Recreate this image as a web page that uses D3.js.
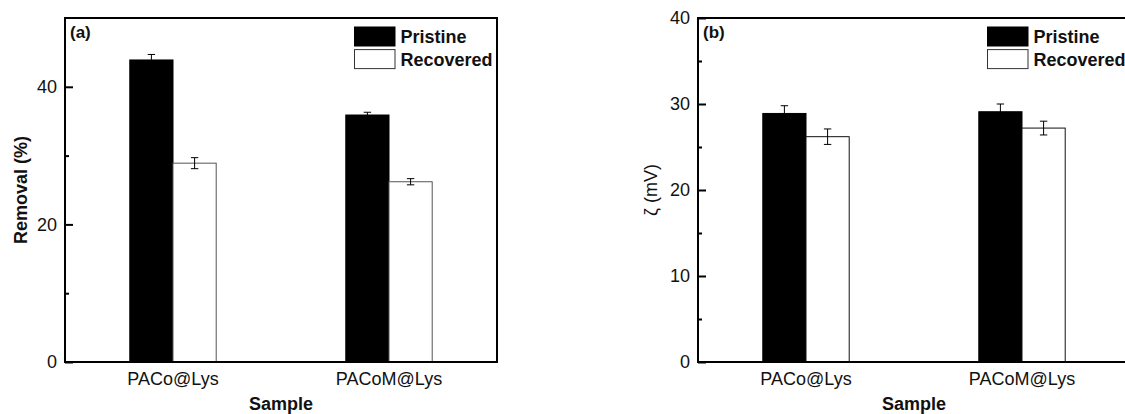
<!DOCTYPE html>
<html>
<head>
<meta charset="utf-8">
<script src="https://cdn.jsdelivr.net/npm/d3@7"></script>
<style>
  html, body { margin: 0; padding: 0; background: #fff; }
  svg { display: block; }
  text { font-family: "Liberation Sans", Arial, sans-serif; fill: #111; }
</style>
</head>
<body>
<svg id="chart" width="1125" height="414"></svg>
<script>
// Samples and series
const samples = ["PACo@Lys", "PACoM@Lys"];
const series = ["Pristine", "Recovered"];

// Panel (a): lysozyme removal, %
const removalPristine = [43.9, 35.9];
const removalPristineErr = [0.8, 0.4];
const removalRecovered = [28.9, 26.2];
const removalRecoveredErr = [0.8, 0.45];
const removalMajorTicks = [0, 20, 40];
const removalMinorTicks = [10, 30];

// Panel (b): zeta potential, mV
const zetaPristine = [28.9, 29.1];
const zetaPristineErr = [0.9, 0.9];
const zetaRecovered = [26.2, 27.2];
const zetaRecoveredErr = [0.9, 0.8];
const zetaMajorTicks = [0, 10, 20, 30, 40];
const zetaMinorTicks = [5, 15, 25, 35];

const svg = d3.select("#chart");
const plotTop = 18, plotHeight = 344, plotWidth = 432;

function drawPanel(opts) {
  const g = svg.append("g").attr("transform", `translate(${opts.left},${plotTop})`);

  const x0 = d3.scaleBand().domain(samples).range([0, plotWidth]);
  const bw = x0.bandwidth();
  const x1 = d3.scaleBand().domain(series).range([bw * 0.3, bw * 0.7]);
  const y = d3.scaleLinear().domain(opts.domain).range([plotHeight, 0]);

  const rows = [];
  samples.forEach((s, i) => {
    rows.push({ sample: s, series: "Pristine", value: opts.pristine[i], err: opts.pristineErr[i] });
    rows.push({ sample: s, series: "Recovered", value: opts.recovered[i], err: opts.recoveredErr[i] });
  });

  // bars
  g.selectAll("rect.bar").data(rows).join("rect")
    .attr("class", "bar")
    .attr("x", d => x0(d.sample) + x1(d.series))
    .attr("width", x1.bandwidth())
    .attr("y", d => y(d.value))
    .attr("height", d => plotHeight - y(d.value))
    .attr("fill", d => d.series === "Pristine" ? "#000" : "#fff")
    .attr("stroke", d => d.series === "Pristine" ? "#000" : opts.outline)
    .attr("stroke-width", 1);

  // error bars
  const capHalf = 3.7;
  const eb = g.selectAll("g.err").data(rows).join("g").attr("class", "err")
    .attr("stroke", "#000").attr("stroke-width", 1);
  const cx = d => x0(d.sample) + x1(d.series) + x1.bandwidth() / 2;
  eb.append("line")
    .attr("x1", cx).attr("x2", cx)
    .attr("y1", d => y(d.value + d.err)).attr("y2", d => y(d.value - d.err));
  eb.append("line")
    .attr("x1", d => cx(d) - capHalf).attr("x2", d => cx(d) + capHalf)
    .attr("y1", d => y(d.value + d.err)).attr("y2", d => y(d.value + d.err));
  eb.append("line")
    .attr("x1", d => cx(d) - capHalf).attr("x2", d => cx(d) + capHalf)
    .attr("y1", d => y(d.value - d.err)).attr("y2", d => y(d.value - d.err));

  // y axis with inward ticks
  const yAxis = g.append("g")
    .call(d3.axisLeft(y).tickValues(opts.major).tickSize(-8).tickPadding(8).tickFormat(d3.format("d")));
  yAxis.select(".domain").remove();
  yAxis.selectAll(".tick line").attr("stroke", "#000").attr("stroke-width", 2);
  yAxis.selectAll(".tick text").style("font-size", "18px").attr("fill", "#111");

  const yMinor = g.append("g")
    .call(d3.axisLeft(y).tickValues(opts.minor).tickSize(-4).tickFormat(""));
  yMinor.select(".domain").remove();
  yMinor.selectAll(".tick line").attr("stroke", "#000").attr("stroke-width", 2);

  // x category labels
  const xAxis = g.append("g").attr("transform", `translate(0,${plotHeight})`)
    .call(d3.axisBottom(x0).tickSize(0).tickPadding(10));
  xAxis.select(".domain").remove();
  xAxis.selectAll(".tick text").style("font-size", "18px").attr("fill", "#111");

  // frame
  g.append("rect")
    .attr("x", 0).attr("y", 0).attr("width", plotWidth).attr("height", plotHeight)
    .attr("fill", "none").attr("stroke", "#000").attr("stroke-width", 2);

  // panel tag
  g.append("text").attr("x", 5).attr("y", 20)
    .style("font-size", "17px").style("font-weight", "bold").text(opts.tag);

  // legend
  const lg = g.append("g").attr("transform", `translate(${plotWidth - 142.5},0)`);
  series.forEach((s, i) => {
    lg.append("rect")
      .attr("x", 0).attr("y", 9 + i * 22.6).attr("width", 40.5).attr("height", 19)
      .attr("fill", i === 0 ? "#000" : "#fff")
      .attr("stroke", i === 0 ? "#000" : "#333").attr("stroke-width", 1);
    lg.append("text").attr("x", 46).attr("y", 25 + i * 22.6)
      .style("font-size", "18px").style("font-weight", "bold").text(s);
  });

  // axis titles
  g.append("text")
    .attr("x", plotWidth / 2).attr("y", plotHeight + 48)
    .attr("text-anchor", "middle")
    .style("font-size", "18px").style("font-weight", "bold").text("Sample");

  g.append("text")
    .attr("transform", `translate(${opts.yTitleX},${plotHeight / 2}) rotate(-90)`)
    .attr("text-anchor", "middle")
    .style("font-size", "18px").style("font-weight", opts.yTitleWeight)
    .text(opts.yTitle);
}

drawPanel({
  left: 65, tag: "(a)", domain: [0, 50],
  pristine: removalPristine, pristineErr: removalPristineErr,
  recovered: removalRecovered, recoveredErr: removalRecoveredErr,
  major: removalMajorTicks, minor: removalMinorTicks,
  yTitle: "Removal (%)", yTitleWeight: "bold", yTitleX: -38, outline: "#555"
});

drawPanel({
  left: 698, tag: "(b)", domain: [0, 40],
  pristine: zetaPristine, pristineErr: zetaPristineErr,
  recovered: zetaRecovered, recoveredErr: zetaRecoveredErr,
  major: zetaMajorTicks, minor: zetaMinorTicks,
  yTitle: "ζ (mV)", yTitleWeight: "normal", yTitleX: -41, outline: "#111"
});
</script>
</body>
</html>
